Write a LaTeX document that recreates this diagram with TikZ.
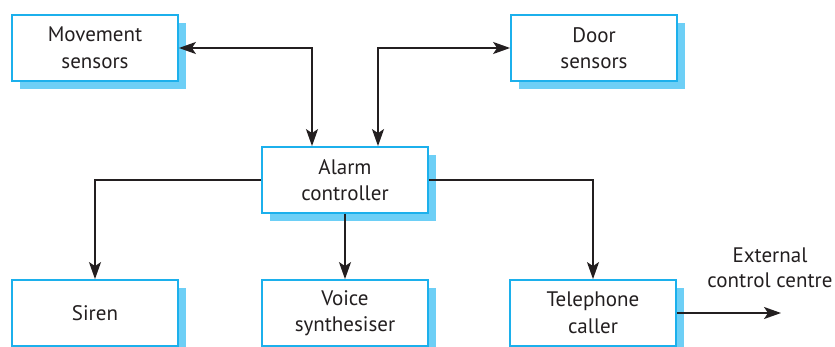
\documentclass[tikz,border=0pt]{standalone}
\usepackage{fontspec}
\setmainfont{PT Sans}
\usetikzlibrary{arrows.meta,shadows}
\definecolor{boxline}{HTML}{1CB0EC}
\definecolor{boxshade}{HTML}{6DCFF6}
\definecolor{ink}{HTML}{231F20}
\tikzset{
  unit/.style={draw=boxline, line width=1.8pt, fill=white,
    minimum width=166pt, minimum height=66pt, inner sep=0pt,
    align=center, text=ink, font=\fontsize{21}{26.5}\selectfont,
    drop shadow={shadow xshift=8pt, shadow yshift=-8pt,
      fill=boxshade, opacity=1}},
  link/.style={draw=ink, line width=1.8pt,
    -{Stealth[length=17pt,width=12pt,inset=4pt]}},
  dlink/.style={draw=ink, line width=1.8pt,
    {Stealth[length=17pt,width=12pt,inset=4pt]}-{Stealth[length=17pt,width=12pt,inset=4pt]}}
}
\begin{document}
\begin{tikzpicture}[x=1pt,y=-1pt]
  \useasboundingbox (0,0) rectangle (835,346);
  % sensors
  \node[unit] (mov)  at (95,48)  {Movement\\sensors};
  \node[unit] (door) at (594,48) {Door\\sensors};
  % controller
  \node[unit] (alarm) at (345,180) {Alarm\\controller};
  % outputs
  \node[unit] (siren) at (95,313)  {Siren};
  \node[unit] (voice) at (345,313) {Voice\\synthesiser};
  \node[unit] (tel)   at (593,313) {Telephone\\caller};
  \node[text=ink, align=center, font=\fontsize{21}{25}\selectfont]
    (extlbl) at (770,268) {External\\control centre};
  \coordinate (ext) at (781,313);
  % connectors
  \draw[dlink] (mov.east) -| ([xshift=-33pt]alarm.north);
  \draw[dlink] ([xshift=33pt]alarm.north) |- (door.west);
  \draw[link] (alarm.west) -| (siren.north);
  \draw[link] (alarm.south) -- (voice.north);
  \draw[link] (alarm.east) -| (tel.north);
  \draw[link] (tel.east) -- (ext);
\end{tikzpicture}
\end{document}
